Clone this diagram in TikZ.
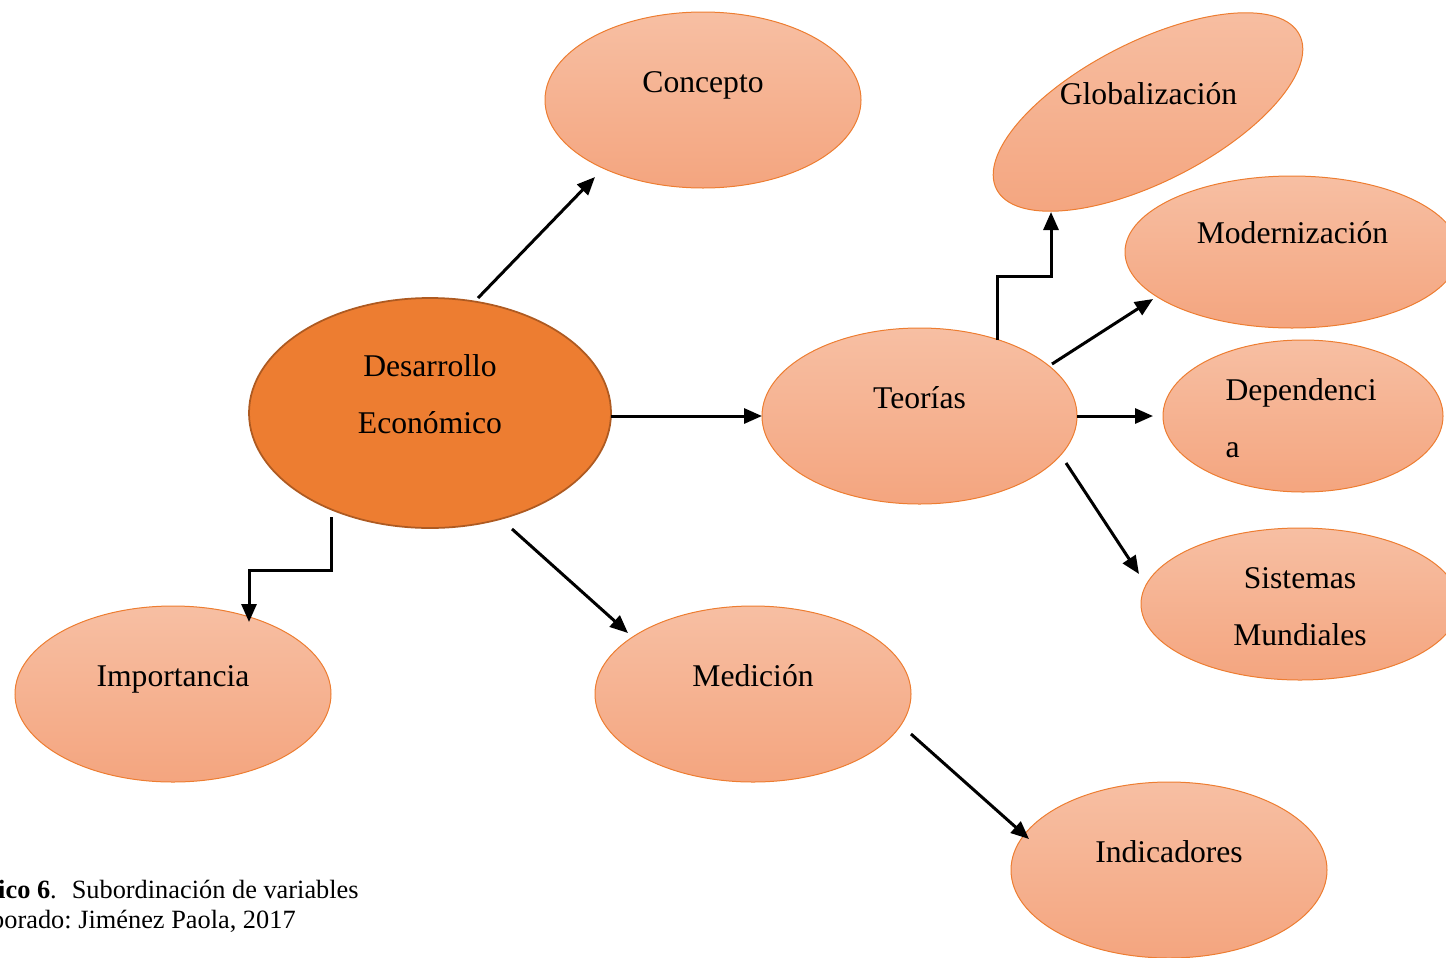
\documentclass[tikz,border=0pt]{standalone}
\usepackage{fontspec}
\setmainfont{Liberation Serif}
\usetikzlibrary{shapes.geometric,arrows.meta,calc}
\definecolor{leaftop}{RGB}{247,191,163}
\definecolor{leafbot}{RGB}{244,165,127}
\definecolor{leafline}{RGB}{237,125,49}
\definecolor{hubfill}{RGB}{237,125,49}
\definecolor{hubline}{RGB}{174,90,33}
\frenchspacing
\begin{document}
\begin{tikzpicture}[x=0.02cm,y=-0.02cm,
  leaf/.style={ellipse, draw=leafline, line width=0.02cm, top color=leaftop, bottom color=leafbot, inner sep=0pt},
  hub/.style={ellipse, draw=hubline, line width=0.035cm, fill=hubfill, inner sep=0pt},
  lbl/.style={font=\fontsize{18pt}{32pt}\selectfont, anchor=base, inner sep=0pt, align=center},
  captext/.style={font=\fontsize{15pt}{18pt}\selectfont, anchor=base east, inner sep=0pt},
  link/.style={line width=0.06cm, -{Triangle[length=0.36cm,width=0.3cm]}}]
\useasboundingbox (0,0) rectangle (1446,957);
\clip (0,0) rectangle (1446,957);

% ellipses
\node[hub,  minimum width=362*0.02cm, minimum height=230*0.02cm] (des) at (430,413) {};
\node[leaf, minimum width=316*0.02cm, minimum height=176*0.02cm] (con) at (703,100) {};
\node[leaf, minimum width=315*0.02cm, minimum height=176*0.02cm] (teo) at (919.5,416) {};
\node[leaf, minimum width=316*0.02cm, minimum height=176*0.02cm] (imp) at (173,694) {};
\node[leaf, minimum width=316*0.02cm, minimum height=176*0.02cm] (med) at (753,694) {};
\node[leaf, minimum width=316*0.02cm, minimum height=176*0.02cm] (ind) at (1169,870) {};
\node[leaf, rotate=27, minimum width=340*0.02cm, minimum height=140*0.02cm] (glo) at (1148,112) {};
\node[leaf, minimum width=334*0.02cm, minimum height=152*0.02cm] (mod) at (1292,252) {};
\node[leaf, minimum width=280*0.02cm, minimum height=152*0.02cm] (dep) at (1303,416) {};
\node[leaf, minimum width=318*0.02cm, minimum height=152*0.02cm] (sis) at (1300,604) {};

% labels (two-line labels are placed by the baseline of their last line)
\node[lbl] (des-t) at (430,433) {Desarrollo\\Económico};
\node[lbl] (con-t) at (703,92) {Concepto};
\node[lbl] (teo-t) at (919.5,408) {Teorías};
\node[lbl] (imp-t) at (173,686) {Importancia};
\node[lbl] (med-t) at (753,686) {Medición};
\node[lbl] (ind-t) at (1169,862) {Indicadores};
\node[lbl] (glo-t) at (1148.5,104) {Globalización};
\node[lbl] (mod-t) at (1292.5,243) {Modernización};
\node[lbl, align=left] (dep-t) at (1301,457) {Dependenci\\a};
\node[lbl] (sis-t) at (1300,645) {Sistemas\\Mundiales};

% connectors
\draw[link] ($(des.center)+(48,-115)$) -- ($(con.center)+(-108,77)$);
\draw[link] ($(des.center)+(181,3)$) -- ($(teo.center)+(-157.5,0)$);
\draw[link] ($(des.center)+(-99,104)$) -- ++(0,53) -| ($(imp.center)+(76,-72)$);
\draw[link] ($(des.center)+(82,116)$) -- ($(med.center)+(-125,-61)$);
\draw[link] ($(teo.center)+(77.5,-76)$) -- ++(0,-64) -| ($(glo.center)+(-97,100)$);
\draw[link] ($(teo.center)+(132.5,-52)$) -- ($(mod.center)+(-139,47)$);
\draw[link] ($(teo.center)+(157.5,0)$) -- ($(dep.center)+(-150,0)$);
\draw[link] ($(teo.center)+(146.5,47)$) -- ($(sis.center)+(-161,-30)$);
\draw[link] ($(med.center)+(158,40)$) -- ($(ind.center)+(-140,-31)$);

% caption
\node[captext] (cap1) at (359,898) {\textbf{Gráfico 6}.\hspace{0.3cm}Subordinación de variables};
\node[captext] (cap2) at (296,928) {Elaborado: Jiménez Paola, 2017};
\end{tikzpicture}
\end{document}
